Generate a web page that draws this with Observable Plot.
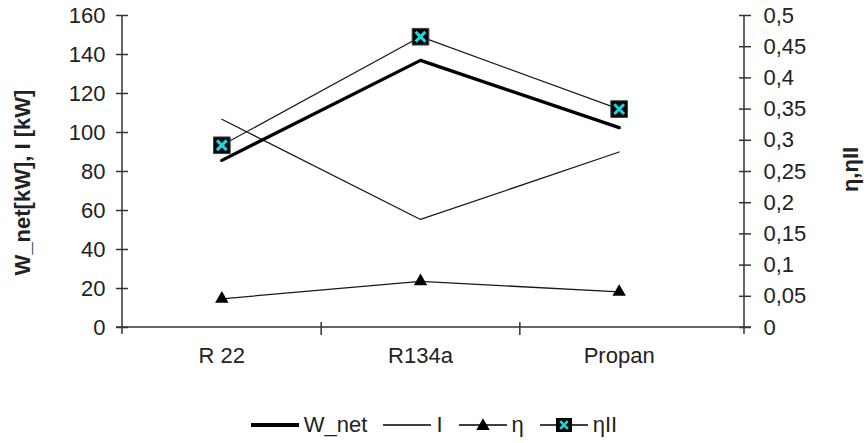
<!DOCTYPE html>
<html>
<head>
<meta charset="utf-8">
<script src="https://cdn.jsdelivr.net/npm/d3@7"></script>
<script src="https://cdn.jsdelivr.net/npm/@observablehq/plot@0.6"></script>
<style>
  html, body { margin: 0; padding: 0; background: #fff; }
  #wrap { width: 864px; height: 443px; font-family: "Liberation Sans", Arial, sans-serif; color: #222; }
  #legend { display: flex; justify-content: center; align-items: center; height: 40px; font-size: 22px; padding-left: 4px; }
  .item { display: flex; align-items: center; margin: 0 8px; }
  .item svg { margin-right: 5px; }
</style>
</head>
<body>
<div id="wrap"><div id="chart"></div><div id="legend"></div></div>
<script>
// ---- data ----
const categories = ["R 22", "R134a", "Propan"];
const wNet  = [85.7, 137, 102.5];   // kW, left axis
const iLoss = [106.8, 55.4, 90];    // kW, left axis
const eta   = [0.046, 0.074, 0.057]; // right axis
const etaII = [0.292, 0.466, 0.35];  // right axis
const leftTicks  = [0, 20, 40, 60, 80, 100, 120, 140, 160];
const rightTicks = [0, 0.05, 0.1, 0.15, 0.2, 0.25, 0.3, 0.35, 0.4, 0.45, 0.5];
const leftMax = 160, rightMax = 0.5;
const K = leftMax / rightMax; // maps right-axis values onto the left scale

const idx = categories.map((_, i) => i);
const rows = idx.map(i => ({i, cat: categories[i], wNet: wNet[i], iLoss: iLoss[i], eta: eta[i] * K, etaII: etaII[i] * K}));
const boundaries = idx.slice(1).map(i => i - 0.5);
const fmtRight = v => String(+(v / K).toFixed(2)).replace(".", ",");

const W = 864, H = 405;
const axisColor = "#333";

// axis lines drawn from the frame dimensions
const axisLines = (index, scales, values, dims) => {
  const g = d3.create("svg:g").attr("stroke", axisColor).attr("stroke-width", 1.5);
  const x0 = dims.marginLeft, x1 = dims.width - dims.marginRight;
  const y0 = dims.marginTop, y1 = dims.height - dims.marginBottom;
  g.append("line").attr("x1", x0).attr("x2", x0).attr("y1", y0).attr("y2", y1 + 7);
  g.append("line").attr("x1", x1).attr("x2", x1).attr("y1", y0).attr("y2", y1 + 7);
  g.append("line").attr("x1", x0 - 6).attr("x2", x1 + 7).attr("y1", y1).attr("y2", y1);
  return g.node();
};

const chart = Plot.plot({
  width: W,
  height: H,
  marginLeft: 122,
  marginRight: 120,
  marginTop: 15,
  marginBottom: 78,
  style: {fontSize: "22px", fontFamily: "Liberation Sans, Arial, sans-serif", color: "#222", background: "#fff"},
  x: {type: "linear", domain: [-0.5, categories.length - 0.5], range: [122, 718]},
  y: {domain: [0, leftMax]},
  marks: [
    axisLines,
    Plot.axisY(leftTicks, {anchor: "left", tickSize: 12, dx: 6, tickPadding: 11, label: null, stroke: axisColor, strokeWidth: 1.5}),
    Plot.axisY(rightTicks.map(v => v * K), {anchor: "right", tickSize: 12, dx: -6, tickPadding: 13, tickFormat: fmtRight, label: null, stroke: axisColor, strokeWidth: 1.5}),
    Plot.axisX(boundaries, {anchor: "bottom", tickSize: 13, dy: -5, tickFormat: () => "", label: null, stroke: axisColor, strokeWidth: 1.5}),
    Plot.axisX(idx, {anchor: "bottom", tickSize: 0, tickPadding: 20, tickFormat: i => categories[i], label: null}),
    Plot.text(["W_net[kW], I [kW]"], {frameAnchor: "left", textAnchor: "middle", rotate: -90, dx: -100, dy: 11, fontWeight: "bold", fontSize: 22, fill: "#222"}),
    Plot.text(["η,ηII"], {frameAnchor: "right", textAnchor: "middle", rotate: -90, dx: 106, dy: -2, fontWeight: "bold", fontSize: 22, fill: "#222"}),
    Plot.line(rows, {x: "i", y: "iLoss", stroke: "#1a1a1a", strokeWidth: 1.3}),
    Plot.line(rows, {x: "i", y: "wNet", stroke: "#000", strokeWidth: 3.3}),
    Plot.line(rows, {x: "i", y: "eta", stroke: "#1a1a1a", strokeWidth: 1.3}),
    Plot.dot(rows, {x: "i", y: "eta", symbol: "triangle", r: 5, fill: "#000", stroke: null}),
    Plot.line(rows, {x: "i", y: "etaII", stroke: "#1a1a1a", strokeWidth: 1.3}),
    Plot.dot(rows, {x: "i", y: "etaII", symbol: "square", r: 9.4, fill: "#050505", stroke: "#444", strokeWidth: 1}),
    Plot.dot(rows, {x: "i", y: "etaII", symbol: "times", r: 4.5, stroke: "#1cd6da", strokeWidth: 3, fill: "none"})
  ]
});
document.getElementById("chart").appendChild(chart);

// ---- legend ----
const legendItems = [
  {label: "W_net", width: 4, marker: null},
  {label: "I", width: 1.3, marker: null},
  {label: "η", width: 1.3, marker: "triangle"},
  {label: "ηII", width: 1.3, marker: "square"}
];
const legend = d3.select("#legend");
for (const it of legendItems) {
  const item = legend.append("div").attr("class", "item");
  const sw = item.append("svg").attr("width", 48).attr("height", 20);
  sw.append("line").attr("x1", 0).attr("x2", 48).attr("y1", 10).attr("y2", 10)
    .attr("stroke", "#000").attr("stroke-width", it.width);
  if (it.marker === "triangle") {
    sw.append("path").attr("transform", "translate(24,11)")
      .attr("d", d3.symbol(d3.symbolTriangle, 80)()).attr("fill", "#000");
  } else if (it.marker === "square") {
    sw.append("rect").attr("x", 16).attr("y", 3).attr("width", 16).attr("height", 14).attr("fill", "#050505");
    sw.append("path").attr("transform", "translate(24,10)")
      .attr("d", d3.symbol(d3.symbolTimes, 40)()).attr("stroke", "#1cd6da").attr("stroke-width", 2.6).attr("fill", "none");
  }
  item.append("span").text(it.label);
}
</script>
</body>
</html>
